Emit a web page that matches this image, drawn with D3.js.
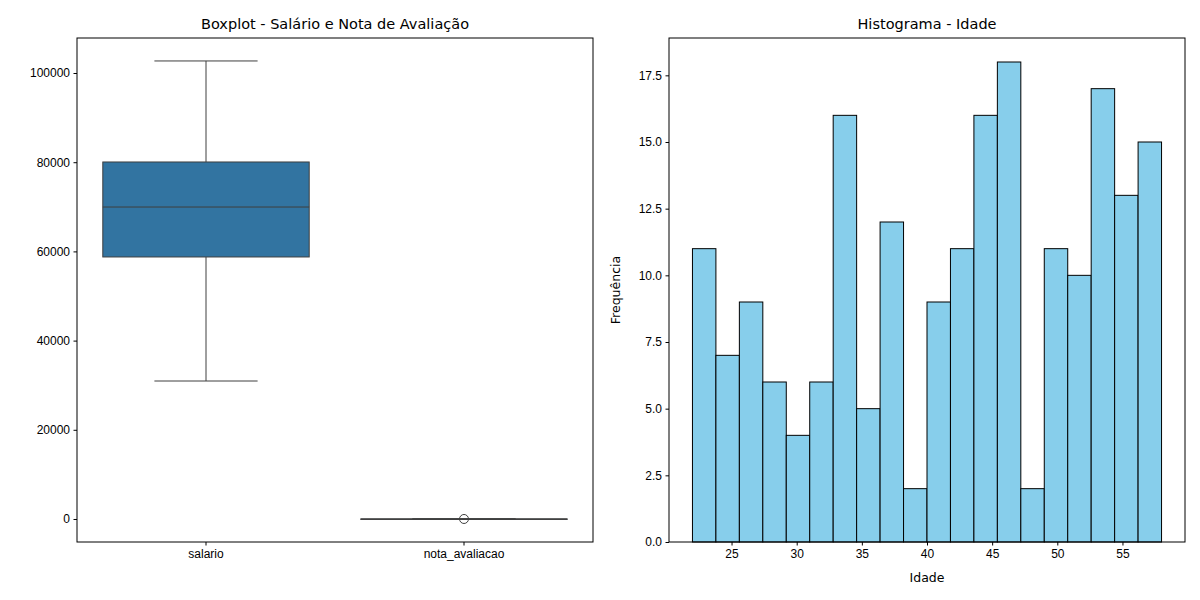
<!DOCTYPE html>
<html>
<head>
<meta charset="utf-8">
<script src="https://cdn.jsdelivr.net/npm/d3@7"></script>
<style>
  body { margin: 0; background: #fff; font-family: "DejaVu Sans", sans-serif; }
  .tick text { font-size: 12px; fill: #000; }
  .tick line, .domain { stroke: #000; }
</style>
</head>
<body>
<svg id="chart" width="1200" height="600"></svg>
<script>
// boxplot data
var boxCategories = ['salario', 'nota_avaliacao'];
var boxStats = [
    { low: 30940, q1: 58750, median: 69950, q3: 80050, high: 102700, outliers: [] },
    { low: 3, q1: 6, median: 7.5, q3: 8.5, high: 10, outliers: [1] }
];
var boxTicks = [0, 20000, 40000, 60000, 80000, 100000];

// histogram data
var binStart = 22, binEnd = 58;
var histCounts = [11, 7, 9, 6, 4, 6, 16, 5, 12, 2, 9, 11, 16, 18, 2, 11, 10, 17, 13, 15];
var histXTicks = [25, 30, 35, 40, 45, 50, 55];
var histYTicks = [0, 2.5, 5, 7.5, 10, 12.5, 15, 17.5];

var svg = d3.select('#chart');

function frame(g, w, h) {
    g.append('rect').attr('width', w).attr('height', h)
        .attr('fill', 'none').attr('stroke', '#000').attr('stroke-width', 1);
}

// ---- left: boxplot ----
(function () {
    var left = 77, top = 38, w = 516, h = 504;
    var g = svg.append('g').attr('transform', 'translate(' + left + ',' + top + ')');
    var x = d3.scaleBand().domain(boxCategories).range([0, w]);
    var y = d3.scaleLinear().domain([-5160, 107850]).range([h, 0]);

    g.append('g').attr('transform', 'translate(0,' + h + ')')
        .call(d3.axisBottom(x).tickSize(3.5).tickPadding(3.5)).select('.domain').remove();
    g.append('g').call(d3.axisLeft(y).tickValues(boxTicks).tickFormat(d3.format('d')).tickSize(3.5).tickPadding(3.5))
        .select('.domain').remove();

    var line = '#3f3f3f';
    boxStats.forEach(function (s, i) {
        var cx = x(boxCategories[i]) + x.bandwidth() / 2;
        var bw = x.bandwidth() * 0.8;
        var cap = bw / 2;
        g.append('line').attr('x1', cx).attr('x2', cx).attr('y1', y(s.high)).attr('y2', y(s.q3)).attr('stroke', line);
        g.append('line').attr('x1', cx).attr('x2', cx).attr('y1', y(s.q1)).attr('y2', y(s.low)).attr('stroke', line);
        g.append('line').attr('x1', cx - cap / 2).attr('x2', cx + cap / 2).attr('y1', y(s.high)).attr('y2', y(s.high)).attr('stroke', line);
        g.append('line').attr('x1', cx - cap / 2).attr('x2', cx + cap / 2).attr('y1', y(s.low)).attr('y2', y(s.low)).attr('stroke', line);
        g.append('rect').attr('x', cx - bw / 2).attr('width', bw)
            .attr('y', y(s.q3)).attr('height', Math.max(0.5, y(s.q1) - y(s.q3)))
            .attr('fill', '#3274a1').attr('stroke', line);
        g.append('line').attr('x1', cx - bw / 2).attr('x2', cx + bw / 2).attr('y1', y(s.median)).attr('y2', y(s.median)).attr('stroke', line);
        s.outliers.forEach(function (o) {
            g.append('circle').attr('cx', cx).attr('cy', y(o)).attr('r', 4.5)
                .attr('fill', 'none').attr('stroke', line);
        });
    });

    frame(g, w, h);
    g.append('text').attr('x', w / 2).attr('y', -9).attr('text-anchor', 'middle')
        .attr('font-size', 14.5).text('Boxplot - Salário e Nota de Avaliação');
})();

// ---- right: histogram ----
(function () {
    var left = 669, top = 38, w = 516, h = 504;
    var g = svg.append('g').attr('transform', 'translate(' + left + ',' + top + ')');
    var pad = (binEnd - binStart) * 0.05;
    var x = d3.scaleLinear().domain([binStart - pad, binEnd + pad]).range([0, w]);
    var y = d3.scaleLinear().domain([0, 18 * 1.05]).range([h, 0]);
    var bw = (binEnd - binStart) / histCounts.length;

    g.selectAll('rect.bar').data(histCounts).enter().append('rect')
        .attr('class', 'bar')
        .attr('x', function (d, i) { return x(binStart + i * bw); })
        .attr('width', function () { return x(binStart + bw) - x(binStart); })
        .attr('y', function (d) { return y(d); })
        .attr('height', function (d) { return h - y(d); })
        .attr('fill', '#87ceeb').attr('stroke', '#000').attr('stroke-width', 1);

    g.append('g').attr('transform', 'translate(0,' + h + ')')
        .call(d3.axisBottom(x).tickValues(histXTicks).tickSize(3.5).tickPadding(3.5)).select('.domain').remove();
    g.append('g').call(d3.axisLeft(y).tickValues(histYTicks).tickFormat(d3.format('.1f')).tickSize(3.5).tickPadding(3.5))
        .select('.domain').remove();

    frame(g, w, h);
    g.append('text').attr('x', w / 2).attr('y', -9).attr('text-anchor', 'middle')
        .attr('font-size', 14.5).text('Histograma - Idade');
    g.append('text').attr('x', w / 2).attr('y', h + 40).attr('text-anchor', 'middle')
        .attr('font-size', 12.5).text('Idade');
    g.append('text').attr('transform', 'translate(-49,' + (h / 2) + ') rotate(-90)')
        .attr('text-anchor', 'middle').attr('font-size', 12.5).text('Frequência');
})();
</script>
</body>
</html>
